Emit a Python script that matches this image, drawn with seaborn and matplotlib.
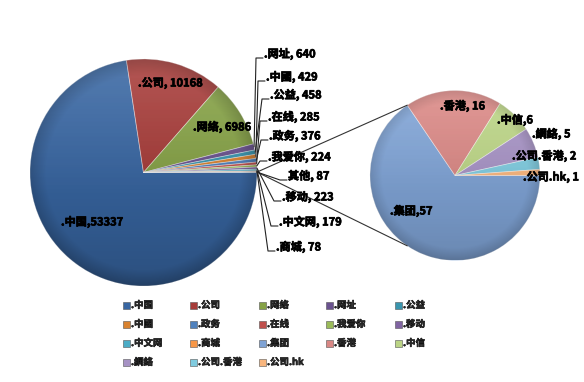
import matplotlib
matplotlib.use("Agg")
import matplotlib.pyplot as plt
import matplotlib.patheffects as pe
import numpy as np
import seaborn as sns
from matplotlib.patches import Circle, Rectangle

# data
main_labels = ["中国", "公司", "网络", "网址", "公益", "中國", "政务", "在线", "我爱你", "移动", "中文网", "商城"]
main_values = [53337, 10168, 6986, 640, 458, 429, 376, 285, 224, 223, 179, 78]
other_label = "其他"
sub_labels = ["集团", "香港", "中信", "網絡", "公司.香港", "公司.hk"]
sub_values = [57, 16, 6, 5, 2, 1]

main_colors = ["#3866A2", "#A63B38", "#86A246", "#6A528F", "#3995AE", "#D9822F",
               "#4F81BD", "#C0504D", "#9BBB59", "#8064A2", "#4BACC6", "#F79646"]
other_color = "#9DAFC8"
sub_colors = ["#7FA3D5", "#D98784", "#BBD485", "#A692C4", "#7FCBDF", "#F9B67E"]

sns.set_theme(style="white")
plt.rcParams["font.family"] = ["Noto Sans CJK SC", "DejaVu Sans"]

W, H = 584, 382
fig = plt.figure(figsize=(W / 100, H / 100), dpi=100)
ax = fig.add_axes([0, 0, 1, 1])

MAIN_C, MAIN_R = (143.5, 172.5), 113.5
SUB_C, SUB_R = (455, 175.5), 85

values_main = main_values + [sum(sub_values)]
colors_main = main_colors + [other_color]
wp = dict(edgecolor=(1, 1, 1, 0.45), linewidth=0.6)
ax.pie(values_main, colors=colors_main, startangle=0, counterclock=True,
       center=MAIN_C, radius=MAIN_R, wedgeprops=wp, frame=True)
ax.pie(sub_values, colors=sub_colors, startangle=0, counterclock=True,
       center=SUB_C, radius=SUB_R, wedgeprops=wp, frame=True)


def shade(c, r, k=1.0):
    n = 240
    yy, xx = np.mgrid[-1:1:n * 1j, -1:1:n * 1j]
    rr = np.hypot(xx, yy)
    t = (yy + 1) / 2
    dark = np.zeros((n, n, 4))
    dark[..., 3] = k * (0.22 * t ** 1.6 + 0.16 * np.clip((rr - 0.86) / 0.14, 0, 1))
    light = np.ones((n, n, 4))
    light[..., 3] = 0.14 * np.clip(1 - t * 1.6, 0, 1)
    ext = (c[0] - r, c[0] + r, c[1] + r, c[1] - r)
    for img in (light, dark):
        im = ax.imshow(img, extent=ext, origin="upper", zorder=3, interpolation="bilinear")
        im.set_clip_path(Circle(c, r, transform=ax.transData))


shade(MAIN_C, MAIN_R)
shade(SUB_C, SUB_R, k=0.75)

# connector lines between the two pies
total_main = sum(values_main)
other_ang = np.deg2rad(360 * (total_main - sum(sub_values) / 2) / total_main)
p0 = (MAIN_C[0] + MAIN_R * np.cos(other_ang), MAIN_C[1] + MAIN_R * np.sin(other_ang))
sub_ang = np.deg2rad(360 * sub_values[0] / sum(sub_values))
for s in (1, -1):
    p1 = (SUB_C[0] + SUB_R * np.cos(sub_ang), SUB_C[1] + s * SUB_R * np.sin(sub_ang))
    ax.plot([p0[0], p1[0]], [p0[1], p1[1]], color="#333333", lw=0.8, zorder=4)

thick = [pe.withStroke(linewidth=0.5, foreground="black")]
txt = dict(fontsize=8, fontweight="bold", color="black", ha="left", va="center",
           zorder=6, path_effects=thick)

# labels inside the big slices
inside_pos = {"中国": (61, 222, ","), "公司": (138, 83, ", "), "网络": (193, 127, ", ")}
for name, (x, y, sep) in inside_pos.items():
    v = main_values[main_labels.index(name)]
    ax.text(x, y, f".{name}{sep}{v}", **txt)

# small slices with leader lines
outside_pos = {
    "网址": (264, 54), "中國": (266, 77), "公益": (270, 95), "在线": (268, 117),
    "政务": (269, 136), "我爱你": (268, 157), other_label: (288, 176),
    "移动": (282, 197), "中文网": (279, 222), "商城": (276, 247),
}
cum = np.cumsum([0] + values_main)
for name, (x, y) in outside_pos.items():
    if name == other_label:
        i = len(values_main) - 1
        label = f"{name}, {values_main[i]}"
    else:
        i = main_labels.index(name)
        label = f".{name}, {values_main[i]}"
    a = np.deg2rad(360 * (cum[i] + values_main[i] / 2) / total_main)
    px, py = MAIN_C[0] + MAIN_R * np.cos(a), MAIN_C[1] + MAIN_R * np.sin(a)
    ax.plot([px, x - 8, x - 1], [py, y + 4, y + 4], color="#222222", lw=0.8, zorder=5)
    ax.text(x, y, label, **txt)

# labels on the second pie
sub_pos = {"集团": (390, 211, ","), "香港": (440, 106, ", "), "中信": (497, 120, ","),
           "網絡": (532, 134, ", "), "公司.香港": (512, 156, ", "), "公司.hk": (523, 177, ", ")}
for name, (x, y, sep) in sub_pos.items():
    v = sub_values[sub_labels.index(name)]
    ax.text(x, y, f".{name}{sep}{v}", **txt)

# legend, row-major grid
legend_names = main_labels + sub_labels
legend_colors = main_colors + sub_colors
col_x = [123, 190, 259, 326, 395]
row_y = [305, 324, 343, 362]
for k, (name, col) in enumerate(zip(legend_names, legend_colors)):
    x, y = col_x[k % 5], row_y[k // 5]
    ax.add_patch(Rectangle((x, y - 3.5), 7, 7, facecolor=col, edgecolor="#555555", lw=0.4, zorder=6))
    ax.text(x + 8, y, f".{name}", fontsize=6.8, fontweight="bold", ha="left", va="center",
            zorder=6, path_effects=[pe.withStroke(linewidth=0.4, foreground="black")])

ax.set_xlim(0, W)
ax.set_ylim(H, 0)
ax.set_aspect("auto")
ax.axis("off")

fig.savefig("out.png", dpi=100)
